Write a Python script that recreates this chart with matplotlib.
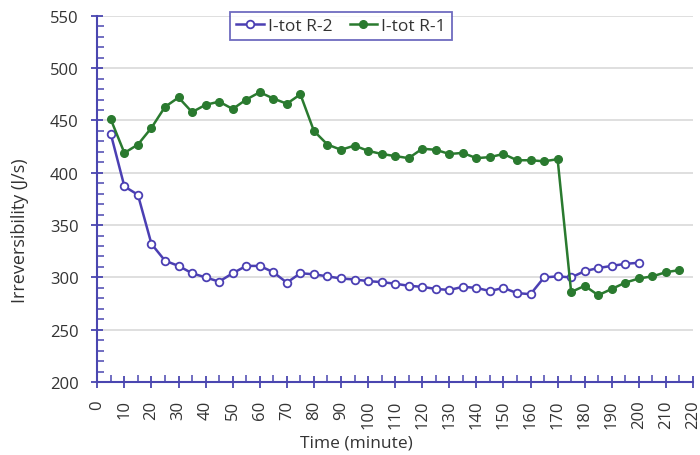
import numpy as np
import matplotlib
matplotlib.use('Agg')
from matplotlib import pyplot as plt
from matplotlib.ticker import MultipleLocator

# Time (minute)
time_r2 = list(range(5, 205, 5))
time_r1 = list(range(5, 220, 5))

# I-tot R-2 (J/s)
itot_r2 = [437, 387, 379, 332, 316, 311, 304, 300, 296, 304,
           311, 311, 305, 295, 304, 303, 301, 299, 298, 296.5,
           295.5, 294, 292, 291, 289, 288, 291, 290, 287, 290,
           285, 284, 300, 301, 300, 306, 309, 311, 313, 314]

# I-tot R-1 (J/s)
itot_r1 = [451, 419, 427, 443, 463, 472, 458, 465, 468, 461,
           470, 477, 471, 466, 475, 440, 427, 422, 426, 421,
           418, 416, 414, 423, 422, 418, 419, 414, 415, 418,
           412, 412, 411, 413, 286, 292, 283, 289, 295, 299,
           301, 305, 307]

x_ticks = list(range(0, 230, 10))

AXIS_COLOR = '#4a46b0'
BLUE = '#4b3fb3'
GREEN = '#2a7a2f'
TEXT = '#333333'

plt.rcParams['font.family'] = ['Open Sans', 'DejaVu Sans']

fig = plt.figure(figsize=(7, 4.56), dpi=100)
ax = fig.add_axes([0.139, 0.160, 0.851, 0.803])

ax.plot(time_r2, itot_r2, color=BLUE, lw=1.8, marker='o', ms=5.5,
        mfc='white', mec=BLUE, mew=1.3, label='I-tot R-2', zorder=3)
ax.plot(time_r1, itot_r1, color=GREEN, lw=1.8, marker='o', ms=5.5,
        mfc=GREEN, mec=GREEN, label='I-tot R-1', zorder=3)

ax.set_xlim(0, 220)
ax.set_ylim(200, 550)
ax.set_xticks(x_ticks)
ax.set_xticklabels([str(t) for t in x_ticks], rotation=90)
ax.xaxis.set_minor_locator(MultipleLocator(5))
ax.yaxis.set_major_locator(MultipleLocator(50))
ax.yaxis.set_minor_locator(MultipleLocator(10))

ax.grid(axis='y', which='major', color='#d9d9d9', lw=1.2, zorder=0)
ax.set_axisbelow(True)

for side in ['top', 'right']:
    ax.spines[side].set_visible(False)
for side in ['left', 'bottom']:
    ax.spines[side].set_color(AXIS_COLOR)
    ax.spines[side].set_linewidth(1.5)

ax.tick_params(which='major', direction='inout', length=9, width=1.3,
               color=AXIS_COLOR, labelsize=12, labelcolor=TEXT)
ax.tick_params(axis='y', which='major', pad=9)
ax.tick_params(axis='x', which='major', pad=8)
ax.tick_params(which='minor', direction='in', length=5, width=1.1,
               color=AXIS_COLOR)

ax.set_xlabel('Time (minute)', fontsize=12.5, color=TEXT)
ax.xaxis.set_label_coords(0.435, -0.142)
ax.set_ylabel('Irreversibility (J/s)', fontsize=13, color=TEXT)
ax.yaxis.set_label_coords(-0.115, 0.415)

leg = fig.legend(loc='upper center', bbox_to_anchor=(0.487, 0.972), ncol=2,
                 frameon=True, fancybox=False, fontsize=12.5,
                 handlelength=1.6, handletextpad=0.2, columnspacing=1.0,
                 borderpad=0.35, borderaxespad=0)
leg.get_frame().set_edgecolor(AXIS_COLOR)
leg.get_frame().set_linewidth(1.3)
for t in leg.get_texts():
    t.set_color(TEXT)

fig.savefig('out.png', dpi=100)
